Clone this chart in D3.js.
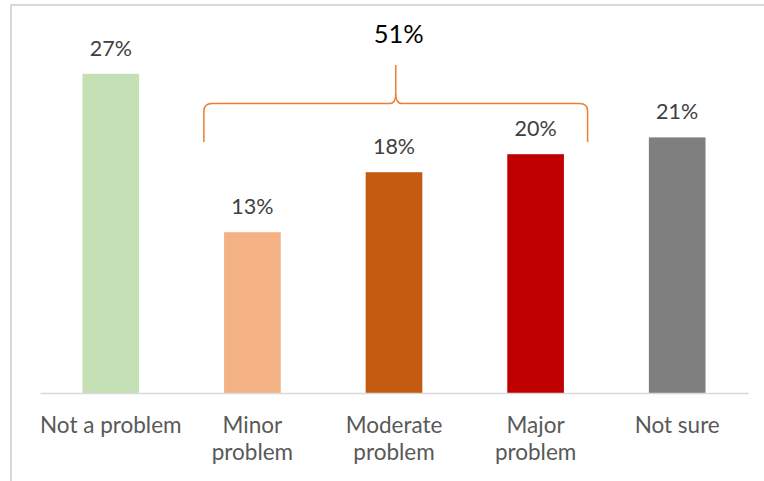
<!DOCTYPE html>
<html>
<head>
<meta charset="utf-8">
<script src="https://cdn.jsdelivr.net/npm/d3@7"></script>
<style>
  html, body { margin: 0; padding: 0; background: #fff; }
  svg { display: block; }
  text { font-family: Lato, "Open Sans", sans-serif; }
</style>
</head>
<body>
<svg id="chart" width="764" height="481"></svg>
<script>
// ---- data ----
const categories = ["Not a problem", "Minor problem", "Moderate problem", "Major problem", "Not sure"];
const categoryLines = [["Not a problem"], ["Minor", "problem"], ["Moderate", "problem"], ["Major", "problem"], ["Not sure"]];
const values = [26.6, 13.4, 18.4, 19.9, 21.3];
const valueLabels = ["27%", "13%", "18%", "20%", "21%"];
const colors = ["#C5E0B4", "#F4B183", "#C55A11", "#C00000", "#7F7F7F"];
const groupedCategories = ["Minor problem", "Moderate problem", "Major problem"];
const groupLabel = "51%";

// ---- layout ----
const svg = d3.select("#chart");
const W = 764, H = 481;
const plot = { left: 40, right: 748, top: 33, bottom: 393 };

// chart frame
svg.append("rect")
  .attr("x", 11).attr("y", 5)
  .attr("width", W + 10).attr("height", H + 10)
  .attr("fill", "#fff").attr("stroke", "#D9D9D9").attr("stroke-width", 2);

const x = d3.scaleBand().domain(categories).range([plot.left, plot.right]).padding(0.6).paddingOuter(0.3);
const y = d3.scaleLinear().domain([0, 30]).range([plot.bottom, plot.top]);

const data = categories.map((c, i) => ({ c, v: values[i], label: valueLabels[i], color: colors[i], lines: categoryLines[i] }));

// bars
svg.append("g").selectAll("rect").data(data).join("rect")
  .attr("x", d => x(d.c))
  .attr("y", d => y(d.v))
  .attr("width", x.bandwidth())
  .attr("height", d => y(0) - y(d.v))
  .attr("fill", d => d.color);

// axis line
const xAxis = d3.axisBottom(x).tickSize(0).tickFormat("");
const ax = svg.append("g").attr("transform", `translate(0,${plot.bottom})`).call(xAxis);
ax.select(".domain").attr("stroke", "#D9D9D9").attr("stroke-width", 1.5);

// category labels
const cl = svg.append("g").selectAll("text").data(data).join("text")
  .attr("text-anchor", "middle")
  .attr("fill", "#595959")
  .attr("font-size", 22.5);
cl.each(function(d) {
  const t = d3.select(this);
  d.lines.forEach((ln, j) => {
    t.append("tspan")
      .attr("x", x(d.c) + x.bandwidth() / 2)
      .attr("y", 433 + j * 27)
      .text(ln);
  });
});

// value labels
svg.append("g").selectAll("text").data(data).join("text")
  .attr("x", d => x(d.c) + x.bandwidth() / 2)
  .attr("y", d => y(d.v) - 18)
  .attr("text-anchor", "middle")
  .attr("fill", "#404040")
  .attr("font-size", 21.5)
  .text(d => d.label);

// brace annotation
const first = groupedCategories[0], last = groupedCategories[groupedCategories.length - 1];
const L = x(first) + x.bandwidth() / 2 - 48.5;
const R = x(last) + x.bandwidth() / 2 + 52;
const M = (L + R) / 2;
const yH = 103.5, yEnd = 142, yTip = 65, r = 8;
const p = d3.path();
p.moveTo(L, yEnd);
p.lineTo(L, yH + r);
p.quadraticCurveTo(L, yH, L + r, yH);
p.lineTo(M - 6, yH);
p.quadraticCurveTo(M, yH, M, yH - 10);
p.lineTo(M, yTip);
p.moveTo(M, yH - 10);
p.quadraticCurveTo(M, yH, M + 6, yH);
p.lineTo(R - r, yH);
p.quadraticCurveTo(R, yH, R, yH + r);
p.lineTo(R, yEnd);
svg.append("path").attr("d", p.toString())
  .attr("fill", "none").attr("stroke", "#ED7D31").attr("stroke-width", 1.5);

svg.append("text")
  .attr("x", M + 3).attr("y", 43)
  .attr("text-anchor", "middle")
  .attr("fill", "#000")
  .attr("font-size", 25.5)
  .text(groupLabel);
</script>
</body>
</html>
